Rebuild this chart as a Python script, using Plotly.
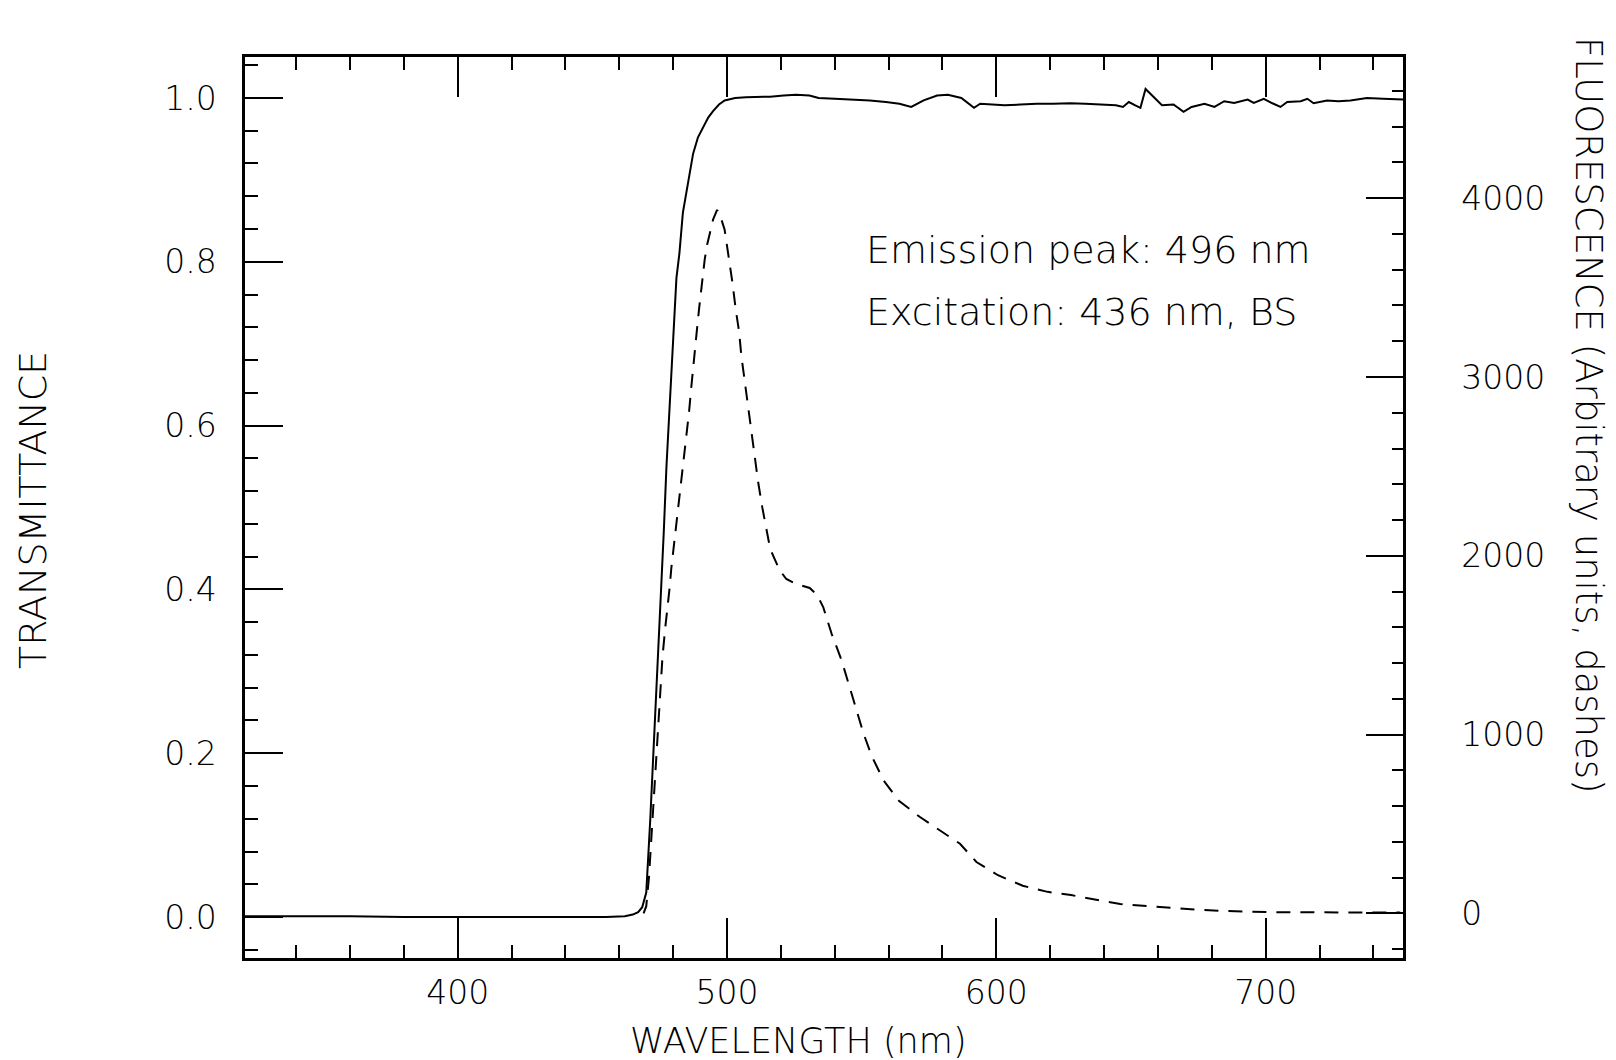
import plotly.graph_objects as go

# ---- data ----
trans_nm = [320, 340, 360, 380, 400, 420, 440, 455, 462, 465, 467, 468.5, 470, 470.7,
            471.5, 472.5, 473.5, 474.5, 475.5, 476.5, 477.5, 478.7, 480, 481.2, 482.3,
            483.6, 485.5, 487.4, 489.2, 491.1, 493, 494.8, 497, 499.1, 503, 507, 512,
            516, 521, 525.6, 530.6, 534, 540, 547, 553, 559, 564, 568.4, 573, 578, 582,
            587, 591.7, 594, 600, 603, 609, 615, 621, 627.5, 633, 639.6, 644.4, 647,
            649.2, 651.6, 653.5, 655.4, 659, 661.5, 665.8, 669.5, 672.5, 677.3, 681,
            684.6, 688.3, 693.3, 695.6, 699.3, 702.5, 705.5, 708, 713, 715.5, 717.8,
            722.8, 727, 731.5, 737.6, 743.6, 748.6, 751]
trans_val = [0.001, 0.001, 0.001, 0.0, 0.0, 0.0, 0.0, 0.0, 0.001, 0.003, 0.006, 0.012,
             0.03, 0.07, 0.12, 0.19, 0.26, 0.33, 0.39, 0.47, 0.55, 0.63, 0.71, 0.78, 0.81,
             0.86, 0.896, 0.932, 0.952, 0.965, 0.976, 0.984, 0.992, 0.997, 1.0, 1.001,
             1.001, 1.0015, 1.003, 1.004, 1.003, 1.0, 0.999, 0.998, 0.997, 0.995, 0.993,
             0.989, 0.997, 1.003, 1.004, 1.0, 0.988, 0.993, 0.992, 0.991, 0.992, 0.993,
             0.993, 0.9935, 0.993, 0.992, 0.991, 0.989, 0.995, 0.991, 0.988, 1.011,
             0.999, 0.991, 0.992, 0.983, 0.989, 0.993, 0.989, 0.996, 0.994, 0.998,
             0.994, 0.999, 0.9935, 0.989, 0.995, 0.996, 0.999, 0.9935, 0.997, 0.996,
             0.997, 1.0, 0.999, 0.998, 0.998]

fluo_nm = [469, 470, 471, 472, 473, 474, 475, 476, 477, 478, 478.7, 479.3, 480.6, 481.8,
           483, 484, 484.9, 485.9, 486.7, 487.4, 488.6, 489.6, 490.4, 491.7, 492.6,
           493.6, 494.8, 496.3, 497.5, 499.1, 500.7, 502, 503.2, 504.5, 505.3, 506.6,
           507.8, 509, 510.3, 511.5, 513.1, 514.6, 516, 517.4, 519.5, 522, 526, 530.7,
           533.5, 535.7, 538.8, 542.5, 545, 548.1, 550.6, 553.7, 558.2, 563.8, 567.5,
           571.5, 579.1, 586.5, 592.6, 600.6, 609.8, 619, 627.7, 637.5, 646, 655.8,
           665.6, 675.5, 685.2, 693.6, 703.3, 713, 722.9, 732.6, 741.4, 750]
fluo_val = [0, 40, 200, 450, 720, 990, 1230, 1430, 1590, 1720, 1824, 1930, 2100, 2250,
            2398, 2530, 2657, 2806, 2940, 3060, 3231, 3380, 3500, 3657, 3740, 3806, 3880,
            3935, 3900, 3824, 3667, 3528, 3380, 3250, 3120, 2972, 2824, 2676, 2546, 2417,
            2269, 2140, 2040, 1991, 1920, 1870, 1840, 1820, 1780, 1713, 1565, 1417, 1287,
            1139, 1009, 880, 741, 630, 585, 540, 463, 389, 287, 213, 154, 120, 102, 74,
            52, 41, 28, 19, 13, 9, 6, 6, 4, 4, 4, 4]

x_ticks = [400, 500, 600, 700]
y_ticks = [0.0, 0.2, 0.4, 0.6, 0.8, 1.0]
y2_ticks = [0, 1000, 2000, 3000, 4000]

x_title = "WAVELENGTH (nm)"
y_title = "TRANSMITTANCE"
y2_title = "FLUORESCENCE (Arbitrary units, dashes)"
notes = ["Emission peak: 496 nm", "Excitation: 436 nm, BS"]

# ---- layout geometry (pixels) ----
W, H = 1616, 1060
L, R, T, B = 245, 1403, 57, 958
pw, ph = R - L, B - T

def px(xp):
    return (xp - L) / pw

def py(yp):
    return (B - yp) / ph

FONT = "DejaVu Sans"
WEIGHT = 200

fig = go.Figure()
fig.add_trace(go.Scatter(x=trans_nm, y=trans_val, mode="lines",
                         line=dict(color="black", width=2), yaxis="y", showlegend=False))
fig.add_trace(go.Scatter(x=fluo_nm, y=fluo_val, mode="lines",
                         line=dict(color="black", width=2, dash="14px,10px"),
                         yaxis="y2", showlegend=False))

axis_common = dict(showgrid=False, zeroline=False, showline=True, linecolor="black",
                   linewidth=2.5, ticks="inside", tickcolor="black", tickwidth=2,
                   tickfont=dict(family=FONT, size=33, color="black", weight=WEIGHT))

fig.update_layout(
    width=W, height=H,
    margin=dict(l=L, r=W - R, t=T, b=H - B),
    paper_bgcolor="white", plot_bgcolor="white",
    xaxis=dict(range=[321, 751], tickvals=x_ticks, ticklen=40, mirror="ticks",
               ticklabelstandoff=4,
               minor=dict(dtick=20, tick0=0, ticklen=13, tickwidth=2, tickcolor="black",
                          ticks="inside", showgrid=False),
               **axis_common),
    yaxis=dict(range=[-0.05, 1.05], tickvals=y_ticks, tickformat=".1f", ticklen=38,
               ticklabelstandoff=19,
               minor=dict(dtick=0.04, tick0=0, ticklen=13, tickwidth=2, tickcolor="black",
                          ticks="inside", showgrid=False),
               **axis_common),
    yaxis2=dict(range=[-250, 4790], tickvals=y2_ticks, ticklen=37, overlaying="y",
                side="right", ticklabelstandoff=49,
                minor=dict(dtick=200, tick0=0, ticklen=11, tickwidth=2, tickcolor="black",
                           ticks="inside", showgrid=False),
                **axis_common),
)

annos = [
    dict(text=x_title, x=px(798), y=py(1041), textangle=0, size=35),
    dict(text=y_title, x=px(33), y=py(510), textangle=-90, size=38),
    dict(text=y2_title, x=px(1589), y=py(415), textangle=90, size=37),
]
for a in annos:
    fig.add_annotation(text=a["text"], x=a["x"], y=a["y"], xref="paper", yref="paper",
                       xanchor="center", yanchor="middle", textangle=a["textangle"],
                       showarrow=False,
                       font=dict(family=FONT, size=a["size"], color="black", weight=WEIGHT))

for t, yp in zip(notes, [250, 312]):
    fig.add_annotation(text=t, x=px(864), y=py(yp), xref="paper", yref="paper",
                       xanchor="left", yanchor="middle", showarrow=False,
                       font=dict(family=FONT, size=38, color="black", weight=WEIGHT))

fig.write_html("out.html")
